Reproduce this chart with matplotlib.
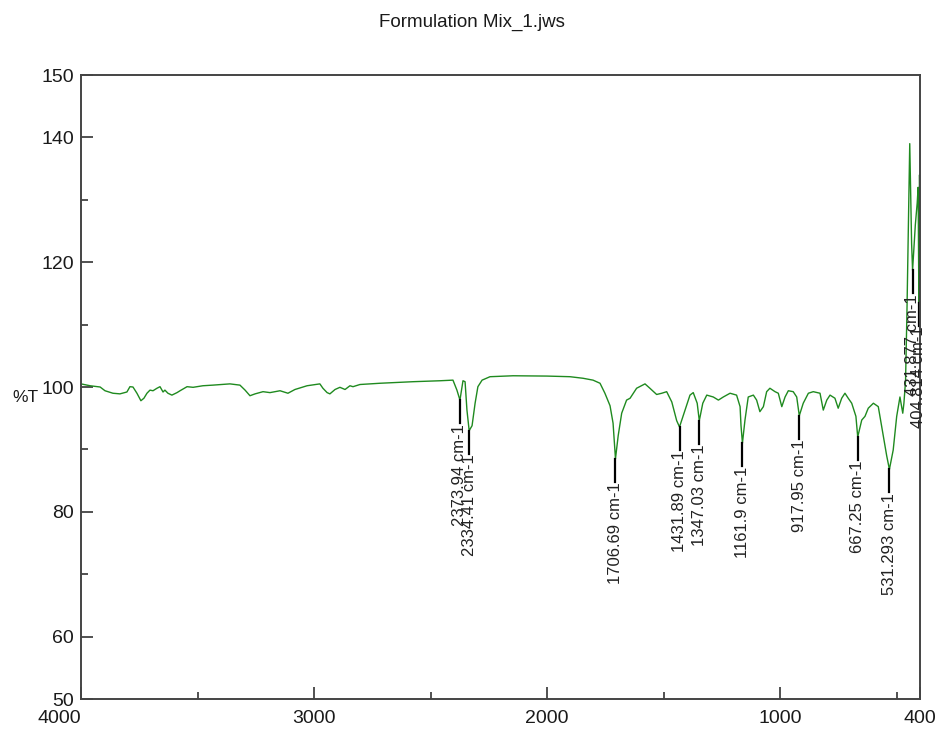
import matplotlib
matplotlib.use("Agg")
import matplotlib.pyplot as plt
from matplotlib.ticker import FixedLocator
import numpy as np

# IR spectrum (wavenumber in cm-1, %T)
wavenumber = [
    4000, 3961, 3918, 3897, 3863, 3833, 3803, 3790, 3777, 3760, 3743, 3730,
    3717, 3704, 3691, 3674, 3661, 3648, 3640, 3627, 3610, 3588, 3575, 3545,
    3519, 3477, 3434, 3361, 3318, 3296, 3275, 3253, 3219, 3189, 3146, 3112,
    3082, 3030, 2975, 2962, 2944, 2932, 2910, 2889, 2867, 2846, 2833, 2803,
    2717, 2575, 2460, 2404, 2387, 2373.94, 2361, 2352, 2344, 2334.41, 2322,
    2309, 2297, 2279, 2245, 2146, 2000, 1902, 1846, 1803, 1773, 1752, 1730,
    1717, 1706.69, 1695, 1680, 1659, 1644, 1616, 1580, 1559, 1530, 1508,
    1487, 1465, 1444, 1431.89, 1408, 1387, 1373, 1356, 1347.03, 1332, 1315,
    1287, 1265, 1244, 1215, 1187, 1172, 1168, 1161.9, 1151, 1137, 1115, 1101,
    1087, 1072, 1058, 1044, 1022, 1008, 993, 979, 965, 944, 929, 917.95, 901,
    879, 858, 829, 815, 800, 786, 765, 751, 736, 722, 708, 693, 675, 667.25,
    650, 636, 622, 600, 579, 564, 543, 531.293, 515, 500, 486, 474, 469, 466,
    462, 456, 450, 444, 440, 436, 431.877, 428, 420, 412, 408, 404.814, 402,
    400,
]
transmittance = [
    100.5, 100.2, 100.0, 99.4, 99.0, 98.9, 99.2, 100.05, 100.0, 99.0, 97.8,
    98.2, 99.0, 99.5, 99.4, 99.8, 100.05, 99.2, 99.5, 99.0, 98.7, 99.1, 99.4,
    100.05, 99.95, 100.2, 100.3, 100.5, 100.3, 99.5, 98.6, 98.9, 99.25, 99.1,
    99.4, 99.0, 99.6, 100.2, 100.5, 99.8, 99.1, 98.9, 99.6, 99.95, 99.6,
    100.2, 100.05, 100.4, 100.6, 100.85, 101.0, 101.1, 99.5, 97.9, 101.0,
    100.85, 96.3, 93.0, 93.8, 97.4, 100.05, 101.1, 101.65, 101.8, 101.75,
    101.65, 101.4, 101.1, 100.6, 99.0, 97.0, 94.2, 88.5, 92.2, 95.8, 97.9,
    98.2, 99.8, 100.5, 99.8, 98.8, 99.0, 99.25, 97.6, 94.6, 93.6, 96.3, 98.7,
    99.1, 97.4, 94.6, 97.4, 98.7, 98.4, 97.9, 98.4, 99.0, 98.7, 96.85, 93.8,
    91.0, 94.7, 98.4, 98.7, 97.9, 96.05, 96.85, 99.25, 99.8, 99.25, 99.0,
    96.85, 98.4, 99.4, 99.25, 98.4, 95.4, 97.4, 99.0, 99.25, 99.0, 96.3,
    97.9, 98.7, 98.2, 96.6, 98.2, 99.0, 98.2, 97.4, 95.3, 92.0, 94.7, 95.3,
    96.6, 97.4, 96.85, 93.6, 89.0, 86.8, 89.9, 95.3, 98.4, 95.8, 97.4, 99.0,
    101.0, 112.0, 126.0, 139.0, 131.0, 123.0, 118.7, 121.0, 126.0, 129.5,
    132.0, 113.5, 134.0, 125.0,
]

peak_positions = [2373.94, 2334.41, 1706.69, 1431.89, 1347.03, 1161.9,
                  917.95, 667.25, 531.293, 431.877, 404.814]
peak_labels = ["2373.94 cm-1", "2334.41 cm-1", "1706.69 cm-1", "1431.89 cm-1",
               "1347.03 cm-1", "1161.9 cm-1", "917.95 cm-1", "667.25 cm-1",
               "531.293 cm-1", "431.877 cm-1", "404.814 cm-1"]

x_major = [4000, 3000, 2000, 1000, 400]
x_minor = [3500, 2500, 1500, 500]
y_major = [50, 60, 80, 100, 120, 140, 150]
y_minor = [70, 90, 110, 130]

plt.rcParams["font.family"] = ["Liberation Sans", "DejaVu Sans"]

fig = plt.figure(figsize=(9.39, 7.29), dpi=100)
ax = fig.add_axes([81 / 939, 1 - 699 / 729, 839 / 939, 624 / 729])

ax.plot(wavenumber, transmittance, color="#1f8a1f", lw=1.0)

# peak markers: short black stem below each minimum with a rotated label
wn_sorted = np.array(wavenumber)[::-1]
t_sorted = np.array(transmittance)[::-1]
stem = 3.7
for pos, lab in zip(peak_positions, peak_labels):
    tmin = float(np.interp(pos, wn_sorted, t_sorted))
    ax.plot([pos, pos], [tmin, tmin - stem], color="black", lw=1.6,
            clip_on=False)
    ax.text(pos, tmin - stem - 0.1, lab, rotation=90, ha="center", va="top",
            fontsize=12, color="#222222")

ax.set_xlim(4000, 400)
ax.set_ylim(50, 150)
ax.xaxis.set_major_locator(FixedLocator(x_major))
ax.xaxis.set_minor_locator(FixedLocator(x_minor))
ax.yaxis.set_major_locator(FixedLocator(y_major))
ax.yaxis.set_minor_locator(FixedLocator(y_minor))
ax.tick_params(which="both", direction="in", colors="#333333",
               labelcolor="#1a1a1a", labelsize=14, width=1.2)
ax.tick_params(which="major", length=8.5)
ax.tick_params(axis="x", which="major", pad=8)
ax.tick_params(axis="y", which="major", pad=5)
ax.tick_params(which="minor", length=5)
ax.get_xticklabels()[0].set_horizontalalignment("right")

for side in ax.spines.values():
    side.set_color("#444444")
    side.set_linewidth(1.4)

fig.text(472 / 939, 1 - 22 / 729, "Formulation Mix_1.jws", ha="center",
         va="center", fontsize=13.5, color="#1a1a1a")
fig.text(12 / 939, 1 - 398 / 729, "%T", ha="left", va="center",
         fontsize=12.5, color="#1a1a1a")

fig.savefig("out.png", dpi=100)
